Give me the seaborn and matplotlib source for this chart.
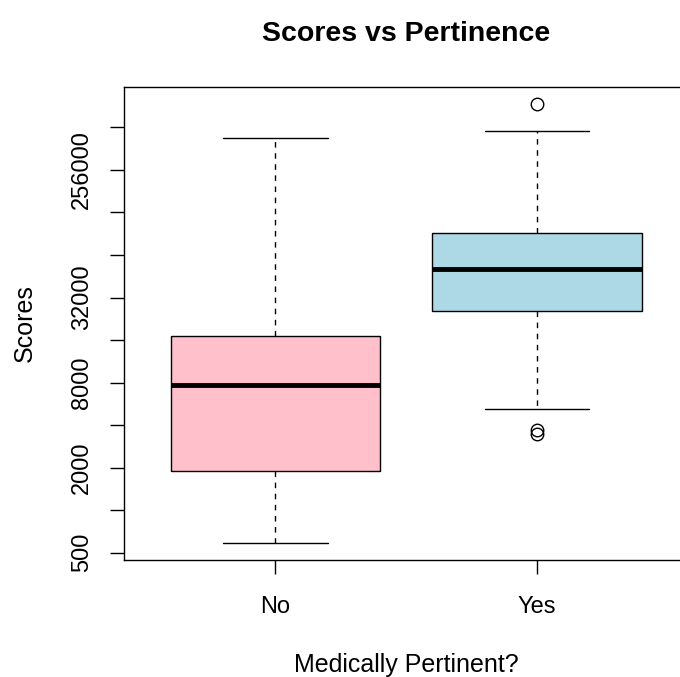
import numpy as np
import pandas as pd
import matplotlib
matplotlib.use("Agg")
import matplotlib.pyplot as plt
import seaborn as sns

# ---- data (log scale) ----
groups = ["No", "Yes"]
scores_no = [586, 1895, 7706, 17140, 433000]
scores_yes = [3450, 3720, 5210, 25760, 35000, 45000, 51100,
              60000, 80000, 91900, 200000, 485000, 753700]
box_colors = ["#FFC0CB", "#ADD8E6"]

tick_values = [500, 1000, 2000, 4000, 8000, 16000, 32000, 64000, 128000, 256000, 512000]
tick_labels = ["500", "", "2000", "", "8000", "", "32000", "", "", "256000", ""]

df = pd.DataFrame({
    "Pertinent": ["No"] * len(scores_no) + ["Yes"] * len(scores_yes),
    "Scores": scores_no + scores_yes,
})

sns.set_style("white")
plt.rcParams["font.family"] = ["Liberation Sans", "DejaVu Sans"]
plt.rcParams["text.color"] = "black"
plt.rcParams["axes.labelcolor"] = "black"
plt.rcParams["xtick.color"] = "black"
plt.rcParams["ytick.color"] = "black"

fig = plt.figure(figsize=(6.8, 6.77), dpi=100)
ax = fig.add_axes([0.182, 0.173, 0.831, 0.699])

sns.boxplot(
    data=df, x="Pertinent", y="Scores", hue="Pertinent", order=groups,
    palette=box_colors, legend=False, log_scale=True, width=0.8,
    linecolor="black", linewidth=1.0, saturation=1, ax=ax,
    whiskerprops=dict(linestyle=(0, (4, 4)), linewidth=1.0),
    capprops=dict(linestyle="-", linewidth=1.0),
    medianprops=dict(linewidth=3.5, color="black"),
    flierprops=dict(marker="o", markerfacecolor="none", markeredgecolor="black",
                    markersize=9, markeredgewidth=1.0),
)

ax.set_xlim(0.42 - 1, 2.58 - 1)
ax.set_ylim(444, 996000)
ax.minorticks_off()
ax.set_yticks(tick_values)
ax.set_yticklabels(tick_labels, rotation=90, va="center")
ax.tick_params(axis="both", which="major", length=10, width=1.0,
               labelsize=17, direction="out", color="black",
               bottom=True, left=True, labelcolor="black")
ax.tick_params(axis="y", pad=12)
ax.tick_params(axis="x", pad=16)

for s in ax.spines.values():
    s.set_visible(True)
    s.set_color("black")
    s.set_linewidth(1.0)

ax.set_title("Scores vs Pertinence", fontsize=20.5, fontweight="bold", pad=33)
ax.set_xlabel("Medically Pertinent?", fontsize=18, labelpad=25)
ax.set_ylabel("Scores", fontsize=18, labelpad=25)

fig.savefig("out.png", dpi=100)
